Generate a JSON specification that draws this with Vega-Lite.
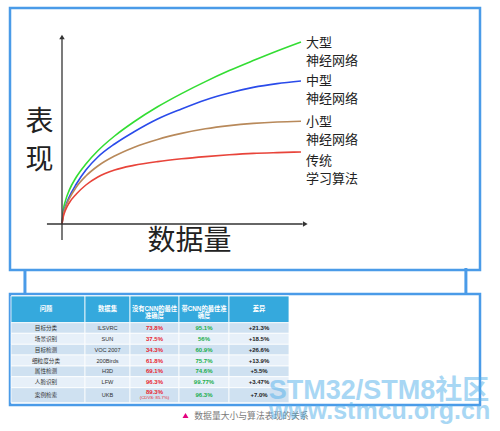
{
  "$schema": "https://vega.github.io/schema/vega-lite/v6.json",
  "padding": {"left": 8, "top": 6, "right": 0, "bottom": 0},
  "spacing": 24,
  "bounds": "flush",
  "background": "white",
  "resolve": {"scale": {"x": "independent", "y": "independent", "color": "independent"}},
  "config": {"view": {"stroke": "#4a9be8", "strokeWidth": 2.5}, "font": "Noto Sans CJK SC"},
  "datasets": {
    "curves": [
      {"s": "大型", "x": 0, "y": 0}, {"s": "大型", "x": 0.5, "y": 6.5}, {"s": "大型", "x": 1.5, "y": 11.8}, {"s": "大型", "x": 3, "y": 16.8}, {"s": "大型", "x": 6, "y": 23.5}, {"s": "大型", "x": 10, "y": 30}, {"s": "大型", "x": 15, "y": 36.6}, {"s": "大型", "x": 22, "y": 44}, {"s": "大型", "x": 30, "y": 51}, {"s": "大型", "x": 40, "y": 58.6}, {"s": "大型", "x": 50, "y": 65.2}, {"s": "大型", "x": 60, "y": 71.2}, {"s": "大型", "x": 70, "y": 76.7}, {"s": "大型", "x": 80, "y": 81.7}, {"s": "大型", "x": 90, "y": 86.5}, {"s": "大型", "x": 100, "y": 91},
      {"s": "中型", "x": 0, "y": 0}, {"s": "中型", "x": 0.5, "y": 5}, {"s": "中型", "x": 1.5, "y": 9}, {"s": "中型", "x": 3, "y": 13.5}, {"s": "中型", "x": 6, "y": 20}, {"s": "中型", "x": 10, "y": 27}, {"s": "中型", "x": 15, "y": 33.5}, {"s": "中型", "x": 22, "y": 40}, {"s": "中型", "x": 30, "y": 46}, {"s": "中型", "x": 40, "y": 52.5}, {"s": "中型", "x": 50, "y": 57.5}, {"s": "中型", "x": 60, "y": 62}, {"s": "中型", "x": 70, "y": 65.5}, {"s": "中型", "x": 80, "y": 68.3}, {"s": "中型", "x": 90, "y": 70.2}, {"s": "中型", "x": 100, "y": 71.5},
      {"s": "小型", "x": 0, "y": 0}, {"s": "小型", "x": 0.5, "y": 4.5}, {"s": "小型", "x": 1.5, "y": 8.5}, {"s": "小型", "x": 3, "y": 12.5}, {"s": "小型", "x": 6, "y": 18.5}, {"s": "小型", "x": 10, "y": 24}, {"s": "小型", "x": 15, "y": 29}, {"s": "小型", "x": 22, "y": 34}, {"s": "小型", "x": 30, "y": 38.3}, {"s": "小型", "x": 40, "y": 42.3}, {"s": "小型", "x": 50, "y": 45.3}, {"s": "小型", "x": 60, "y": 47.6}, {"s": "小型", "x": 70, "y": 49.2}, {"s": "小型", "x": 80, "y": 50.3}, {"s": "小型", "x": 90, "y": 51}, {"s": "小型", "x": 100, "y": 51.4},
      {"s": "传统", "x": 0, "y": 0}, {"s": "传统", "x": 0.5, "y": 3.5}, {"s": "传统", "x": 1.5, "y": 7}, {"s": "传统", "x": 3, "y": 10.5}, {"s": "传统", "x": 6, "y": 15}, {"s": "传统", "x": 10, "y": 19.5}, {"s": "传统", "x": 15, "y": 23.5}, {"s": "传统", "x": 22, "y": 27}, {"s": "传统", "x": 30, "y": 29.3}, {"s": "传统", "x": 40, "y": 31.2}, {"s": "传统", "x": 50, "y": 32.6}, {"s": "传统", "x": 60, "y": 33.7}, {"s": "传统", "x": 70, "y": 34.6}, {"s": "传统", "x": 80, "y": 35.3}, {"s": "传统", "x": 90, "y": 35.7}, {"s": "传统", "x": 100, "y": 36}
    ],
    "seriesLabels": [
      {"s": "大型", "x": 102.1, "y": 90.3, "text": "大型\n神经网络"},
      {"s": "中型", "x": 102.1, "y": 71.3, "text": "中型\n神经网络"},
      {"s": "小型", "x": 102.1, "y": 51, "text": "小型\n神经网络"},
      {"s": "传统", "x": 102.1, "y": 31.5, "text": "传统\n学习算法"}
    ],
    "axisTitles": [
      {"x": -9.4, "y": 50.6, "text": "表\n现"},
      {"x": 53.3, "y": -9, "text": "数据量"}
    ],
    "axes": [
      {"x": 0, "y": -8, "x2": 0, "y2": 93.5},
      {"x": -6.3, "y": 0, "x2": 100.7, "y2": 0}
    ],
    "arrowUp": [{"x": 0, "y": 93.5}],
    "arrowRight": [{"x": 101.8, "y": 0}],
    "connectors": [
      {"x": -15.5, "y": -23, "x2": -15.5, "y2": -35},
      {"x": 169, "y": -22, "x2": 169, "y2": -35}
    ],
    "rows": [
      {"r": 0, "y0": 2, "y1": 28.7, "yc": 14.8, "band": "h"},
      {"r": 1, "y0": 28.7, "y1": 39.3, "yc": 34, "band": "a"},
      {"r": 2, "y0": 39.3, "y1": 50.3, "yc": 44.8, "band": "b"},
      {"r": 3, "y0": 50.3, "y1": 61, "yc": 55.6, "band": "a"},
      {"r": 4, "y0": 61, "y1": 72, "yc": 66.5, "band": "b"},
      {"r": 5, "y0": 72, "y1": 82.7, "yc": 77.3, "band": "a"},
      {"r": 6, "y0": 82.7, "y1": 93.7, "yc": 88.2, "band": "b"},
      {"r": 7, "y0": 93.7, "y1": 108.7, "yc": 101.2, "band": "a"}
    ],
    "cols": [
      {"c": 1, "x0": 1, "x1": 75, "xc": 36},
      {"c": 2, "x0": 75, "x1": 120, "xc": 97.5},
      {"c": 3, "x0": 120, "x1": 169, "xc": 144.5},
      {"c": 4, "x0": 169, "x1": 219, "xc": 194},
      {"c": 5, "x0": 219, "x1": 279, "xc": 249}
    ],
    "cells": [
      {"r": 0, "c": 1, "v": "问题"}, {"r": 0, "c": 2, "v": "数据集"}, {"r": 0, "c": 3, "v": "没有CNN的最佳\n准确度"}, {"r": 0, "c": 4, "v": "带CNN的最佳准\n确度"}, {"r": 0, "c": 5, "v": "差异"},
      {"r": 1, "c": 1, "v": "目标分类"}, {"r": 1, "c": 2, "v": "ILSVRC"}, {"r": 1, "c": 3, "v": "73.8%"}, {"r": 1, "c": 4, "v": "95.1%"}, {"r": 1, "c": 5, "v": "+21.3%"},
      {"r": 2, "c": 1, "v": "场景识别"}, {"r": 2, "c": 2, "v": "SUN"}, {"r": 2, "c": 3, "v": "37.5%"}, {"r": 2, "c": 4, "v": "56%"}, {"r": 2, "c": 5, "v": "+18.5%"},
      {"r": 3, "c": 1, "v": "目标检测"}, {"r": 3, "c": 2, "v": "VOC 2007"}, {"r": 3, "c": 3, "v": "34.3%"}, {"r": 3, "c": 4, "v": "60.9%"}, {"r": 3, "c": 5, "v": "+26.6%"},
      {"r": 4, "c": 1, "v": "细粒度分类"}, {"r": 4, "c": 2, "v": "200Birds"}, {"r": 4, "c": 3, "v": "61.8%"}, {"r": 4, "c": 4, "v": "75.7%"}, {"r": 4, "c": 5, "v": "+13.9%"},
      {"r": 5, "c": 1, "v": "属性检测"}, {"r": 5, "c": 2, "v": "H3D"}, {"r": 5, "c": 3, "v": "69.1%"}, {"r": 5, "c": 4, "v": "74.6%"}, {"r": 5, "c": 5, "v": "+5.5%"},
      {"r": 6, "c": 1, "v": "人脸识别"}, {"r": 6, "c": 2, "v": "LFW"}, {"r": 6, "c": 3, "v": "96.3%"}, {"r": 6, "c": 4, "v": "99.77%"}, {"r": 6, "c": 5, "v": "+3.47%"},
      {"r": 7, "c": 1, "v": "案例检索"}, {"r": 7, "c": 2, "v": "UKB"}, {"r": 7, "c": 3, "v": "89.3%"}, {"r": 7, "c": 4, "v": "96.3%"}, {"r": 7, "c": 5, "v": "+7.0%"}
    ],
    "notes": [{"r": 7, "c": 3, "v": "(CDVS: 85.7%)"}],
    "caption": [{"x": 184.3, "y": 122, "text": "数据量大小与算法表现的关系"}],
    "captionMark": [{"x": 175.5, "y": 121.5}],
    "watermark": [
      {"line": 1, "x": 369, "y": 105, "text": "STM32/STM8社区"},
      {"line": 2, "x": 369.5, "y": 125, "text": "www.stmcu.org.cn"}
    ]
  },
  "vconcat": [
    {
      "width": 470,
      "height": 262,
      "encoding": {
        "x": {"field": "x", "type": "quantitative", "scale": {"domain": [-21.757, 174.9], "nice": false, "zero": false}, "axis": null},
        "y": {"field": "y", "type": "quantitative", "scale": {"domain": [-23, 108], "nice": false, "zero": false}, "axis": null}
      },
      "layer": [
        {
          "data": {"name": "curves"},
          "mark": {"type": "line", "interpolate": "monotone", "strokeWidth": 1.6},
          "encoding": {
            "color": {"field": "s", "type": "nominal", "scale": {"domain": ["大型", "中型", "小型", "传统"], "range": ["#33dd33", "#2a4bea", "#b8895a", "#e8443a"]}, "legend": null}
          }
        },
        {
          "data": {"name": "axes"},
          "mark": {"type": "rule", "color": "#333333", "strokeWidth": 1.3},
          "encoding": {"x2": {"field": "x2"}, "y2": {"field": "y2"}}
        },
        {
          "data": {"name": "arrowUp"},
          "mark": {"type": "point", "shape": "triangle-up", "filled": true, "color": "#333333", "opacity": 1, "size": 30},
          "encoding": {}
        },
        {
          "data": {"name": "arrowRight"},
          "mark": {"type": "point", "shape": "triangle-right", "filled": true, "color": "#333333", "opacity": 1, "size": 30},
          "encoding": {}
        },
        {
          "data": {"name": "seriesLabels"},
          "mark": {"type": "text", "align": "left", "baseline": "middle", "fontSize": 13, "lineHeight": 17.5, "lineBreak": "\n", "color": "#222222"},
          "encoding": {"text": {"field": "text"}}
        },
        {
          "data": {"name": "axisTitles"},
          "mark": {"type": "text", "align": "center", "baseline": "middle", "fontSize": 28, "lineHeight": 38.5, "lineBreak": "\n", "color": "#222222"},
          "encoding": {"text": {"field": "text"}}
        },
        {
          "data": {"name": "connectors"},
          "mark": {"type": "rule", "color": "#4a9be8", "strokeWidth": 3},
          "encoding": {"x2": {"field": "x2"}, "y2": {"field": "y2"}}
        }
      ]
    },
    {
      "width": 470,
      "height": 111,
      "encoding": {
        "x": {"field": "x", "type": "quantitative", "scale": {"domain": [0, 470], "nice": false, "zero": false}, "axis": null},
        "y": {"field": "y", "type": "quantitative", "scale": {"domain": [0, 111], "nice": false, "zero": false, "reverse": true}, "axis": null}
      },
      "layer": [
        {
          "data": {"name": "cells"},
          "transform": [
            {"lookup": "r", "from": {"data": {"name": "rows"}, "key": "r", "fields": ["y0", "y1", "yc", "band"]}},
            {"lookup": "c", "from": {"data": {"name": "cols"}, "key": "c", "fields": ["x0", "x1", "xc"]}}
          ],
          "layer": [
            {
              "mark": {"type": "rect", "stroke": "white", "strokeWidth": 0.8},
              "encoding": {
                "x": {"field": "x0", "type": "quantitative"},
                "x2": {"field": "x1"},
                "y": {"field": "y0", "type": "quantitative"},
                "y2": {"field": "y1"},
                "color": {"field": "band", "type": "nominal", "scale": {"domain": ["h", "a", "b"], "range": ["#35a9dd", "#cfe1f1", "#e7f0f9"]}, "legend": null}
              }
            },
            {
              "transform": [{"filter": "datum.r == 0"}],
              "mark": {"type": "text", "align": "center", "baseline": "middle", "fontSize": 6.3, "fontWeight": "bold", "lineHeight": 7.3, "lineBreak": "\n", "color": "white", "font": "Liberation Sans, Noto Sans CJK SC"},
              "encoding": {"x": {"field": "xc", "type": "quantitative"}, "y": {"field": "yc", "type": "quantitative"}, "text": {"field": "v"}}
            },
            {
              "transform": [{"filter": "datum.r > 0 && datum.c <= 2"}],
              "mark": {"type": "text", "align": "center", "baseline": "middle", "fontSize": 5.6, "color": "#333333", "font": "Liberation Sans, Noto Sans CJK SC"},
              "encoding": {"x": {"field": "xc", "type": "quantitative"}, "y": {"field": "yc", "type": "quantitative"}, "text": {"field": "v"}}
            },
            {
              "transform": [{"filter": "datum.r > 0 && datum.r < 7 && datum.c == 3"}],
              "mark": {"type": "text", "align": "center", "baseline": "middle", "fontSize": 6, "fontWeight": "bold", "color": "#e8262e", "font": "Liberation Sans"},
              "encoding": {"x": {"field": "xc", "type": "quantitative"}, "y": {"field": "yc", "type": "quantitative"}, "text": {"field": "v"}}
            },
            {
              "transform": [{"filter": "datum.r == 7 && datum.c == 3"}],
              "mark": {"type": "text", "align": "center", "baseline": "middle", "fontSize": 6, "fontWeight": "bold", "color": "#e8262e", "font": "Liberation Sans", "dy": -3},
              "encoding": {"x": {"field": "xc", "type": "quantitative"}, "y": {"field": "yc", "type": "quantitative"}, "text": {"field": "v"}}
            },
            {
              "transform": [{"filter": "datum.r > 0 && datum.c == 4"}],
              "mark": {"type": "text", "align": "center", "baseline": "middle", "fontSize": 6, "fontWeight": "bold", "color": "#1aae4c", "font": "Liberation Sans"},
              "encoding": {"x": {"field": "xc", "type": "quantitative"}, "y": {"field": "yc", "type": "quantitative"}, "text": {"field": "v"}}
            },
            {
              "transform": [{"filter": "datum.r > 0 && datum.c == 5"}],
              "mark": {"type": "text", "align": "center", "baseline": "middle", "fontSize": 6, "fontWeight": "bold", "color": "#222222", "font": "Liberation Sans"},
              "encoding": {"x": {"field": "xc", "type": "quantitative"}, "y": {"field": "yc", "type": "quantitative"}, "text": {"field": "v"}}
            }
          ]
        },
        {
          "data": {"name": "notes"},
          "transform": [
            {"lookup": "r", "from": {"data": {"name": "rows"}, "key": "r", "fields": ["yc"]}},
            {"lookup": "c", "from": {"data": {"name": "cols"}, "key": "c", "fields": ["xc"]}}
          ],
          "mark": {"type": "text", "align": "center", "baseline": "middle", "fontSize": 4.3, "color": "#e8262e", "font": "Liberation Sans", "dy": 3.2},
          "encoding": {"x": {"field": "xc", "type": "quantitative"}, "y": {"field": "yc", "type": "quantitative"}, "text": {"field": "v"}}
        },
        {
          "data": {"name": "captionMark"},
          "mark": {"type": "point", "shape": "triangle-up", "filled": true, "color": "#e4007f", "opacity": 1, "size": 36},
          "encoding": {}
        },
        {
          "data": {"name": "caption"},
          "mark": {"type": "text", "align": "left", "baseline": "middle", "fontSize": 8.8, "color": "#7a7a7a"},
          "encoding": {"text": {"field": "text"}}
        },
        {
          "data": {"name": "watermark"},
          "transform": [{"filter": "datum.line == 1"}],
          "mark": {"type": "text", "align": "center", "baseline": "alphabetic", "fontSize": 27, "fontWeight": "bold", "color": "#53b0ea", "opacity": 0.5, "font": "Liberation Sans, Noto Sans CJK SC"},
          "encoding": {"text": {"field": "text"}}
        },
        {
          "data": {"name": "watermark"},
          "transform": [{"filter": "datum.line == 2"}],
          "mark": {"type": "text", "align": "center", "baseline": "alphabetic", "fontSize": 25, "fontWeight": "bold", "color": "#53b0ea", "opacity": 0.5, "font": "Liberation Sans"},
          "encoding": {"text": {"field": "text"}}
        }
      ]
    }
  ]
}
